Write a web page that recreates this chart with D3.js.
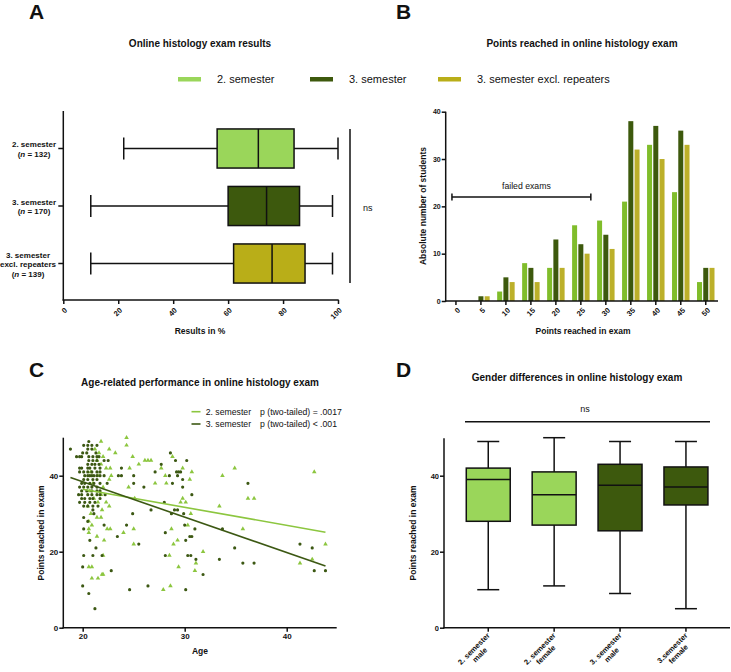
<!DOCTYPE html>
<html><head><meta charset="utf-8">
<script src="https://cdn.jsdelivr.net/npm/d3@7"></script>
<style>body{margin:0;background:#fff}svg{display:block}</style>
</head><body><svg id="c" width="731" height="672"></svg>
<script>
// ---------------- DATA ----------------
// Panel A
const groupsA = ["2. semester", "3. semester", "3. semester excl. repeaters"];
const labelsA = [["2. semester", "(n = 132)"], ["3. semester", "(n = 170)"], ["3. semester", "excl. repeaters", "(n = 139)"]];
const minA = [22, 10, 10];
const q1A = [56, 60, 62];
const medA = [71, 74, 76];
const q3A = [84, 86, 88];
const maxA = [100, 98, 98];
const ticksA = [0, 20, 40, 60, 80, 100];
// Panel B
const binsB = [0, 5, 10, 15, 20, 25, 30, 35, 40, 45, 50];
const seriesB = ["2. semester", "3. semester", "3. semester excl. repeaters"];
const sem2B = [0, 0, 2, 8, 7, 16, 17, 21, 33, 23, 4];
const sem3B = [0, 1, 5, 7, 13, 12, 14, 38, 37, 36, 7];
const sem3exB = [0, 1, 4, 4, 7, 10, 11, 32, 30, 33, 7];
const ticksB = [0, 10, 20, 30, 40];
const failedB = [-0.8, 27];
const failedLevelB = 22;
// Panel C  [age, points]
const sem3C = [
 [20.6,49],[20.1,48],[20.5,48],[20.9,48],[21.4,48],[18.8,47],[20.5,47],[20.9,47],
 [20.0,46],[20.4,46],[21.3,46],[19.4,45],[19.7,45],[19.9,45],[20.6,45],[21.0,45],[21.4,45],[21.6,45],
 [20.6,44],[21.0,44],[21.4,44],[22.1,44],[22.5,44],[20.5,43],[20.9,43],[21.2,43],[21.6,43],
 [19.7,42],[19.9,42],[20.5,42],[20.7,42],[21.2,42],[21.7,42],[23.8,42],
 [19.7,41],[20.1,41],[20.5,41],[20.9,41],[21.4,41],[21.7,41],
 [20.2,40],[20.5,40],[20.7,40],[20.9,40],[21.1,40],[21.4,40],[21.7,40],[22.1,40],[23.5,40],[23.8,40],[25.0,40],
 [20.1,39],[20.5,39],[21.0,39],[21.4,39],[19.9,38],[20.2,38],[20.7,38],[21.1,38],[21.7,38],[22.4,38],[25.0,38],
 [19.7,37],[20.1,37],[20.5,37],[20.9,37],[21.4,37],[26.0,37],[19.9,36],[20.4,36],[20.9,36],[21.4,36],[21.7,36],
 [19.6,35],[19.9,35],[20.5,35],[20.9,35],[21.4,35],[21.7,35],[22.2,35],[19.9,34],[20.2,34],[20.7,34],[21.0,34],[21.7,34],
 [19.7,33],[20.2,33],[20.7,33],[21.2,33],[20.1,32],[20.5,32],[21.0,32],[21.5,32],[21.0,31],[26.7,31],[21.1,30],[24.9,30],
 [20.1,29],[20.5,28],[22.1,27],[24.3,27],[20.1,26],[23.4,24],[20.7,23],[25.5,22],[21.3,21],[20.1,19],[21.0,19],[21.9,19],
 [20.0,16],[22.8,15],[20.0,11],[26.4,11],[24.6,10],[20.6,9],[21.2,5],
 [28.6,46],[29.1,44],[30.2,44],[27.7,43],[27.1,41],[29.2,41],[29.4,41],[29.6,41],[28.5,40],[29.3,40],[29.8,39],
 [28.8,38],[36.2,38],[29.8,37],[30.7,35],[28.0,33],[29.0,31],[29.3,31],[28.7,30],[29.9,30],[30.0,27],[31.0,26],[33.7,26],
 [28.1,25],[30.5,24],[30.7,24],[30.1,23],[34.9,21],[28.1,19],[30.3,19],[30.6,19],[31.1,18],[33.4,18],[35.7,17],[36.8,17],
 [31.8,14],[30.1,10],[41.3,22],[42.5,21],[42.7,15],[43.8,15]
];
const sem2C = [
 [24.3,50],[21.8,49],[24.3,48],[21.2,47],[22.6,47],[21.6,46],[23.2,46],[22.0,45],[24.9,45],[28.8,45],
 [21.4,44],[26.1,44],[26.4,44],[26.7,44],[21.8,43],[25.5,43],[22.3,42],[22.7,42],[24.6,42],[27.7,42],[29.8,42],[34.9,42],
 [20.8,41],[30.7,41],[42.7,41],[21.5,40],[22.8,40],[28.1,40],[33.7,40],[22.6,39],[30.5,39],[21.0,38],[27.1,38],[28.2,38],
 [22.0,37],[24.5,37],[20.7,36],[21.8,35],[21.1,34],[25.1,34],[29.8,34],[36.2,34],[36.8,34],[21.5,33],[22.3,33],[29.6,33],[30.1,33],
 [20.5,32],[22.6,32],[33.4,32],[21.9,31],[20.8,30],[30.6,30],[21.4,29],[21.8,29],[20.6,28],[20.9,27],[30.3,27],
 [20.6,26],[22.4,26],[22.7,26],[25.0,26],[28.7,26],[35.7,26],[20.6,25],[24.0,25],[21.4,24],[22.1,23],[29.3,23],[25.0,22],[28.9,22],[43.8,22],
 [31.8,20],[22.0,19],[28.5,19],[31.1,17],[41.3,17],[42.5,18],[20.6,16],[20.9,16],[29.4,16],[31.0,15],[21.9,14],[22.0,14],
 [21.5,13],[20.9,13],[28.6,11],[27.9,10]
];
const regC2 = {intercept: 45.9, slope: -0.474, from: 20.0, to: 43.8};
const regC3 = {intercept: 57.0, slope: -0.93, from: 18.8, to: 43.8};
const ticksCx = [20, 30, 40];
const ticksCy = [0, 20, 40];
// Panel D
const catsD = ["2. semester male", "2. semester female", "3. semester male", "3.semester female"];
const labelsD = [["2. semester", "male"], ["2. semester", "female"], ["3. semester", "male"], ["3.semester", "female"]];
const minD = [10, 11, 9, 5];
const q1D = [28, 27, 25.5, 32.3];
const medD = [39, 35, 37.5, 37];
const q3D = [42, 41, 43, 42.3];
const maxD = [49, 50, 49, 49];
const ticksD = [0, 20, 40];

// ---------------- STYLE ----------------
const F = '"Liberation Sans", Arial, Helvetica, sans-serif';
const INK = "#111";
const C_LIGHT = "#9ad65a", C_DARK = "#3d590d", C_OLIVE = "#b9ae18";
const C_BAR = ["#80bd2b", "#3d590d", "#bcb02a"];
const C_TRI = "#8cc63f", C_DOT = "#3c5813";
const LW = 1.5;

const svg = d3.select("#c");
svg.append("rect").attr("width", 731).attr("height", 672).attr("fill", "#fff");

function txt(g, x, y, s, size, weight, anchor) {
  return g.append("text").attr("x", x).attr("y", y).text(s)
    .attr("font-family", F).attr("font-size", size).attr("font-weight", weight || "normal")
    .attr("text-anchor", anchor || "start").attr("fill", INK);
}
function line(g, x1, y1, x2, y2, w) {
  return g.append("line").attr("x1", x1).attr("y1", y1).attr("x2", x2).attr("y2", y2)
    .attr("stroke", INK).attr("stroke-width", w || LW);
}
function styleAxis(g, size) {
  g.select("path.domain").remove();
  g.selectAll(".tick line").attr("stroke", INK).attr("stroke-width", LW);
  g.selectAll(".tick text").attr("font-family", F).attr("font-weight", "bold")
    .attr("font-size", size).attr("fill", INK);
}
function addLine(t, s) {
  const m = s.match(/^\((n)( = .*)$/);
  if (m) {
    t.append("tspan").text("(");
    t.append("tspan").text("n").attr("font-style", "italic");
    t.append("tspan").text(m[2]);
  } else t.text(s);
}
// multi-line block, lines centred within block; right edge of block at x=0 in g
function multiLine(g, lines, size, lh) {
  const ts = lines.map((s, i) => {
    const t = g.append("text").attr("font-family", F).attr("font-size", size)
      .attr("font-weight", "bold").attr("fill", INK).attr("text-anchor", "middle").attr("y", i * lh);
    addLine(t, s);
    return t;
  });
  const w = d3.max(ts, t => t.node().getComputedTextLength());
  ts.forEach(t => t.attr("x", -w / 2));
}

// ---------------- PANEL LETTERS & TITLES ----------------
txt(svg, 29, 19, "A", 21, "bold");
txt(svg, 396, 19, "B", 21, "bold");
txt(svg, 29, 377, "C", 21, "bold");
txt(svg, 396, 377, "D", 21, "bold");
txt(svg, 200, 47, "Online histology exam results", 10, "bold", "middle");
txt(svg, 582, 47, "Points reached in online histology exam", 10, "bold", "middle");
txt(svg, 200, 385.5, "Age-related performance in online histology exam", 10, "bold", "middle");
txt(svg, 577, 380.5, "Gender differences in online histology exam", 10, "bold", "middle");

// ---------------- TOP LEGEND ----------------
const legX = [178, 310, 438];
const legCols = [C_LIGHT, C_DARK, C_OLIVE];
seriesB.forEach((s, i) => {
  svg.append("rect").attr("x", legX[i]).attr("y", 77).attr("width", 23).attr("height", 4.5).attr("fill", legCols[i]);
  txt(svg, legX[i] + 39, 83, s, 11, "normal");
});

// ---------------- PANEL A ----------------
const gA = svg.append("g");
const xA = d3.scaleLinear([0, 100], [63.3, 338]);
const yA = d3.scaleBand(groupsA, [119.75, 292.25]).paddingInner(0.32).paddingOuter(0.16);
groupsA.forEach((g, i) => {
  const y0 = yA(g), bw = yA.bandwidth(), cy = y0 + bw / 2;
  line(gA, xA(minA[i]), cy, xA(q1A[i]), cy);
  line(gA, xA(q3A[i]), cy, xA(maxA[i]), cy);
  line(gA, xA(minA[i]), cy - 11, xA(minA[i]), cy + 11);
  line(gA, xA(maxA[i]), cy - 11, xA(maxA[i]), cy + 11);
  gA.append("rect").attr("x", xA(q1A[i])).attr("y", y0).attr("width", xA(q3A[i]) - xA(q1A[i])).attr("height", bw)
    .attr("fill", legCols[i]).attr("stroke", INK).attr("stroke-width", LW);
  line(gA, xA(medA[i]), y0, xA(medA[i]), y0 + bw);
});
const axAx = gA.append("g").attr("transform", "translate(0,300)")
  .call(d3.axisBottom(xA).tickValues(ticksA).tickSize(4));
styleAxis(axAx, 7.5);
axAx.selectAll(".tick text").attr("x", 0).attr("y", 0).attr("dy", "0.35em")
  .attr("text-anchor", "end").attr("transform", "translate(2,9) rotate(-45)");
const axAy = gA.append("g").attr("transform", "translate(63.3,0)")
  .call(d3.axisLeft(yA).tickSize(5).tickFormat(""));
styleAxis(axAy, 7.5);
line(gA, 63.3, 111, 63.3, 300.7);
line(gA, 62.6, 300, 338.7, 300);
groupsA.forEach((g, i) => {
  const cy = yA(g) + yA.bandwidth() / 2;
  const n = labelsA[i].length, lh = 9.5;
  const gl = gA.append("g").attr("transform", `translate(56,${cy - (n - 1) * lh / 2 + 3.5})`);
  multiLine(gl, labelsA[i], 8, lh);
});
txt(gA, 200, 334, "Results in %", 8.5, "bold", "middle");
line(gA, 350, 129, 350, 283);
txt(gA, 363, 211, "ns", 9, "normal");

// ---------------- PANEL B ----------------
const gB = svg.append("g");
const xB = d3.scaleBand(binsB, [445.7, 716]).paddingInner(0.3).paddingOuter(0.06);
const xBs = d3.scaleBand(seriesB, [0, xB.bandwidth()]).paddingInner(0.2);
const yB = d3.scaleLinear([0, 40], [301, 111.7]);
const valsB = [sem2B, sem3B, sem3exB];
seriesB.forEach((s, k) => {
  gB.selectAll(null).data(binsB).enter().append("rect")
    .attr("x", (d) => xB(d) + xBs(s))
    .attr("y", (d, i) => yB(valsB[k][i]))
    .attr("width", xBs.bandwidth())
    .attr("height", (d, i) => yB(0) - yB(valsB[k][i]))
    .attr("fill", C_BAR[k]);
});
const axBx = gB.append("g").attr("transform", "translate(0,301)")
  .call(d3.axisBottom(xB).tickSize(4));
styleAxis(axBx, 7.5);
axBx.selectAll(".tick text").attr("x", 0).attr("y", 0).attr("dy", "0.35em")
  .attr("text-anchor", "end").attr("transform", "translate(3,8) rotate(-45)");
const axBy = gB.append("g").attr("transform", "translate(445.7,0)")
  .call(d3.axisLeft(yB).tickValues(ticksB).tickSize(4).tickPadding(1));
styleAxis(axBy, 7);
line(gB, 445.7, 111.7, 445.7, 301.7);
line(gB, 445, 301, 718, 301);
txt(gB, 583, 334, "Points reached in exam", 8.5, "bold", "middle");
txt(gB, 0, 0, "Absolute number of students", 8.5, "bold", "middle")
  .attr("transform", "translate(425.5,206) rotate(-90)");
const pB = d3.scaleLinear([0, 50], [xB(0) + xB.bandwidth() / 2, xB(50) + xB.bandwidth() / 2]);
const fy = yB(failedLevelB);
line(gB, pB(failedB[0]), fy, pB(failedB[1]), fy);
line(gB, pB(failedB[0]), fy - 3.5, pB(failedB[0]), fy + 3.5);
line(gB, pB(failedB[1]), fy - 3.5, pB(failedB[1]), fy + 3.5);
txt(gB, (pB(failedB[0]) + pB(failedB[1])) / 2 + 5, fy - 8, "failed exams", 8.7, "normal", "middle");

// ---------------- PANEL C ----------------
const gC = svg.append("g");
const xC = d3.scaleLinear([18.1, 44.9], [63.3, 336.7]);
const yC = d3.scaleLinear([0, 50], [627.7, 437.7]);
gC.selectAll(null).data(sem2C).enter().append("path")
  .attr("d", d3.symbol(d3.symbolTriangle, 9))
  .attr("transform", d => `translate(${xC(d[0])},${yC(d[1])})`)
  .attr("fill", C_TRI);
gC.selectAll(null).data(sem3C).enter().append("path")
  .attr("d", d3.symbol(d3.symbolCircle, 8))
  .attr("transform", d => `translate(${xC(d[0])},${yC(d[1])})`)
  .attr("fill", C_DOT);
[[regC2, C_TRI], [regC3, C_DOT]].forEach(([r, c]) => {
  gC.append("line")
    .attr("x1", xC(r.from)).attr("y1", yC(r.intercept + r.slope * r.from))
    .attr("x2", xC(r.to)).attr("y2", yC(r.intercept + r.slope * r.to))
    .attr("stroke", c).attr("stroke-width", 1.6);
});
const axCx = gC.append("g").attr("transform", "translate(0,627.7)")
  .call(d3.axisBottom(xC).tickValues(ticksCx).tickSize(4).tickPadding(2));
styleAxis(axCx, 8);
const axCy = gC.append("g").attr("transform", "translate(63.3,0)")
  .call(d3.axisLeft(yC).tickValues(ticksCy).tickSize(4).tickPadding(1));
styleAxis(axCy, 8);
line(gC, 63.3, 437.7, 63.3, 628.4);
line(gC, 62.6, 627.7, 336.7, 627.7);
txt(gC, 200, 654, "Age", 8.5, "bold", "middle");
txt(gC, 0, 0, "Points reached in exam", 8.5, "bold", "middle")
  .attr("transform", "translate(44,533) rotate(-90)");
[["2. semester", "p (two-tailed) = .0017", C_TRI, 411.7], ["3. semester", "p (two-tailed) < .001", C_DOT, 424]].forEach(([a, b, c, y]) => {
  gC.append("line").attr("x1", 191.5).attr("x2", 200.5).attr("y1", y).attr("y2", y).attr("stroke", c).attr("stroke-width", 1.6);
  txt(gC, 205.7, y + 3, a, 8.7, "normal");
  txt(gC, 260, y + 3, b, 8.7, "normal");
});

// ---------------- PANEL D ----------------
const gD = svg.append("g");
const xD = d3.scaleBand(catsD, [444, 730.2]).paddingInner(0.333).paddingOuter(0.338);
const yD = d3.scaleLinear([0, 50], [627.7, 437.7]);
const fillD = [C_LIGHT, C_LIGHT, C_DARK, C_DARK];
catsD.forEach((c, i) => {
  const x0 = xD(c), bw = xD.bandwidth(), cx = x0 + bw / 2;
  line(gD, cx, yD(maxD[i]), cx, yD(q3D[i]));
  line(gD, cx, yD(q1D[i]), cx, yD(minD[i]));
  line(gD, cx - 11, yD(maxD[i]), cx + 11, yD(maxD[i]));
  line(gD, cx - 11, yD(minD[i]), cx + 11, yD(minD[i]));
  gD.append("rect").attr("x", x0).attr("y", yD(q3D[i])).attr("width", bw).attr("height", yD(q1D[i]) - yD(q3D[i]))
    .attr("fill", fillD[i]).attr("stroke", INK).attr("stroke-width", LW);
  line(gD, x0, yD(medD[i]), x0 + bw, yD(medD[i]));
});
const axDx = gD.append("g").attr("transform", "translate(0,627.7)")
  .call(d3.axisBottom(xD).tickSize(4).tickFormat(""));
styleAxis(axDx, 7.5);
catsD.forEach((c, i) => {
  const cx = xD(c) + xD.bandwidth() / 2;
  const gl = gD.append("g").attr("transform", `translate(${cx + 2},${636}) rotate(-45)`);
  multiLine(gl, labelsD[i], 7.5, 8.5);
});
const axDy = gD.append("g").attr("transform", "translate(444,0)")
  .call(d3.axisLeft(yD).tickValues(ticksD).tickSize(4).tickPadding(1));
styleAxis(axDy, 7.5);
line(gD, 444, 438.3, 444, 628.4);
line(gD, 443.3, 627.7, 730, 627.7);
txt(gD, 0, 0, "Points reached in exam", 8.5, "bold", "middle")
  .attr("transform", "translate(416,533) rotate(-90)");
line(gD, 465, 421.7, 710, 421.7);
txt(gD, 585, 412, "ns", 9, "normal", "middle");
</script></body></html>
